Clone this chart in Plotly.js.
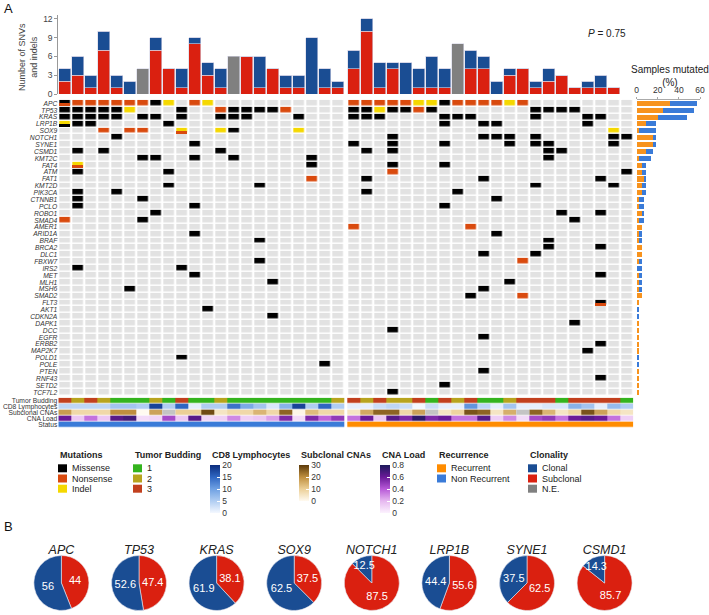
<!DOCTYPE html>
<html><head><meta charset="utf-8">
<script src="https://cdn.plot.ly/plotly-3.0.1.min.js"></script>
<style>html,body{margin:0;padding:0;background:#fff}#chart{width:709px;height:615px}</style>
</head><body><div id="chart"></div>
<script>
// ---------------- DATA ----------------
const genes = ['APC','TP53','KRAS','LRP1B','SOX9','NOTCH1','SYNE1','CSMD1','KMT2C','FAT4','ATM','FAT1','KMT2D','PIK3CA','CTNNB1','PCLO','ROBO1','SMAD4','AMER1','ARID1A','BRAF','BRCA2','DLC1','FBXW7','IRS2','MET','MLH1','MSH6','SMAD2','FLT3','AKT1','CDKN2A','DAPK1','DCC','EGFR','ERBB2','MAP2K7','POLD1','POLE','PTEN','RNF43','SETD2','TCF7L2'];
// codes: . none, M missense, N nonsense, I indel, x = M over N, y = I over M, z = I over N
const mutNonRecurrent = ['xNNNNNNMI.NI','MMMMMI...M..NMMMMN','MMMMM.MM.M..MMM...M','yMM.....M','...N.NN..z..IM....I','....M','..........M','.M.M........M','......MM..M..M.....M','.z.................M','.M......M','...................N','........M......M','.M..M','.M....M','.M........M','.......M','N.....M','','..........M','...............M','','','...............M','.M.......M','..........M','................M','.....M','','','...........M','................M','','','','','','.........M','....................M','','','',''];
const mutRecurrent = ['NNNNNIIMNNNNIN','MMIMMNM.......MMMM','MMM....MMM....M...MM','.......M..MM......M','....................I','...M......MMM.M.....MM','M..M...M....M.MM....M','.M.M...........MM','...............M','...M...M','...N.................M','.M........M........M','..............M.....M','.M......M','...........M','.......M','................M..M','.................M','N........N','...........M','...............M','...............M...M','..........M...M','.............N','','...................M','............M','..........M','.........M...N','...................x','','','.................M','...M','..........M','...................M','..................M','','','..........M','...................M','.......M','...M'];

const clonalNR    = [2,3,2,3,2,2,0,2,0,3,1,2,3,0,0,5,0,2,2,9,3,1];
const subclonalNR = [2,3,1,7,1,0,0,7,4,1,8,3,1,0,6,1,4,1,1,0,1,1];
const notEvalNR   = [0,0,0,0,0,0,4,0,0,0,0,0,0,6,0,0,0,0,0,0,0,0];
const clonalR     = [3,2,4,1,5,3,5,3,0,3,2,2,1,0,1,2,0,0,1,2,0,0];
const subclonalR  = [4,10,1,4,0,1,1,1,0,4,4,0,3,4,1,2,3,1,1,1,1,0];
const notEvalR    = [0,0,0,0,0,0,0,0,8,0,0,0,0,0,0,0,0,0,0,0,0,0];

const trackNames = ['Tumor Budding','CD8 Lymphocytes','Subclonal CNAs','CNA Load','Status'];
const buddingNR = [3,2,3,2,1,1,1,2,1,3,1,1,2,1,1,1,1,1,1,1,1,2];
const buddingR  = [3,2,3,2,2,3,1,3,2,3,1,1,2,3,3,3,1,3,3,3,3,1];
const cd8NR = [4,4,4,4,6,6,5,18,5,15,1,5,5,14,9,6,2,8,18,5,15,5];
const cd8R  = [1,1,3,4,3,0,3,1,1,11,4,1,6,1,1,2,2,8,6,1,7,5];
const subCnaNR = [18,8,8,8,20,20,0,17,null,10,10,28,5,8,8,14,8,25,1,13,8,8];
const subCnaR  = [5,16,25,25,8,17,null,5,9,27,25,5,15,null,25,14,5,9,27,17,8,5];
const cnaLoadNR = [0.6,0.15,0.35,0.15,0.65,0.7,0.08,0.1,0.45,0.15,0.65,0.1,0.12,0.3,0.12,0.15,0.25,0.55,0.08,0.55,0.38,0.5];
const cnaLoadR  = [0.35,0.6,0.15,0.65,0.55,0.75,0.55,0.6,0.35,0.35,0.65,0.12,0.3,0.08,0.45,0.5,0.35,0.6,0.65,0.6,0.35,0.12];

const pieGenes = ['APC','TP53','KRAS','SOX9','NOTCH1','LRP1B','SYNE1','CSMD1'];
const pieClonal = [56,52.6,61.9,62.5,12.5,44.4,37.5,14.3];
const pieSubclonal = [44,47.4,38.1,37.5,87.5,55.6,62.5,85.7];
const pValue = '0.75';

// ---------------- STYLE ----------------
const FONT = 'Liberation Sans, Arial, Helvetica, sans-serif';
const W = 709, H = 615;
const px = v => v / W, py = v => 1 - v / H;
const C = {grey:'#e2e2e2', M:'#000000', N:'#d94a0e', I:'#f5d800',
  clonal:'#1a4d93', sub:'#da2010', ne:'#808080', rec:'#f7931e', nonrec:'#3a7bd8',
  b1:'#34b41e', b2:'#b8a41e', b3:'#c2401e'};
const nL = 22, nR = 22, GAP = 0.23;
const xL = Array.from({length:nL},(_,i)=>i);
const xR = Array.from({length:nR},(_,i)=>nL+GAP+i);
const xAll = xL.concat(xR);
const yIdx = genes.map((g,i)=>i);
const rowPx = 6.88, colPx = 13;
const XG = 2.3, YG = 1.5;

const codeTop = {'.':0,'M':1,'N':2,'I':3,'x':1,'y':3,'z':3};
const codeBot = {'x':C.N,'y':C.M,'z':C.N};
const rowsL = mutNonRecurrent.map(s=>s.padEnd(nL,'.'));
const rowsR = mutRecurrent.map(s=>s.padEnd(nR,'.'));
const mutScale = [[0,C.grey],[0.1667,C.grey],[0.1667,C.M],[0.5,C.M],[0.5,C.N],[0.8333,C.N],[0.8333,C.I],[1,C.I]];

const traces = [];
// top bars
const cat = (a,b)=>a.concat(b);
const barLine = {color:'#d6d6e6',width:0.6};
traces.push({type:'bar', x:xAll, y:cat(subclonalNR,subclonalR), marker:{color:C.sub,line:barLine}, width:0.9, hoverinfo:'skip'});
traces.push({type:'bar', x:xAll, y:cat(clonalNR,clonalR), marker:{color:C.clonal,line:barLine}, width:0.9, hoverinfo:'skip'});
traces.push({type:'bar', x:xAll, y:cat(notEvalNR,notEvalR), marker:{color:C.ne,line:barLine}, width:0.9, hoverinfo:'skip'});

// oncoprint
[[rowsL,xL],[rowsR,xR]].forEach(([rows,xs])=>{
  traces.push({type:'heatmap', x:xs, y:yIdx, z:rows.map(r=>r.split('').map(c=>codeTop[c])),
    colorscale:mutScale, zmin:0, zmax:3, showscale:false, xgap:XG, ygap:YG,
    xaxis:'x', yaxis:'y2', hoverinfo:'skip'});
});
const sx=[], sb=[], sh=[], sc=[];
[[rowsL,xL],[rowsR,xR]].forEach(([rows,xs])=>{
  rows.forEach((r,gi)=>r.split('').forEach((c,ci)=>{
    if (codeBot[c]) { sx.push(xs[ci]); sb.push(gi); sh.push(0.5-YG/rowPx/2); sc.push(codeBot[c]); }
  }));
});
traces.push({type:'bar', x:sx, y:sh, base:sb, width:1-XG/colPx, marker:{color:sc,line:{width:0}}, xaxis:'x', yaxis:'y2', hoverinfo:'skip'});

// samples mutated (%)
const countRow = r => r.split('').filter(c=>c!=='.').length;
const total = nL + nR;
const pctRec = rowsR.map(r=>countRow(r)/total*100);
const pctNon = rowsL.map(r=>countRow(r)/total*100);
traces.push({type:'bar', orientation:'h', y:yIdx, x:pctRec, width:0.74, marker:{color:C.rec}, xaxis:'x3', yaxis:'y2', hoverinfo:'skip'});
traces.push({type:'bar', orientation:'h', y:yIdx, x:pctNon, width:0.74, marker:{color:C.nonrec}, xaxis:'x3', yaxis:'y2', hoverinfo:'skip'});

// annotation tracks
const edgesY = k => [k-0.5, k+0.5];
function track(k, zl, zr, scale, zmin, zmax, cb) {
  [[zl,xL],[zr,xR]].forEach(([z,xs],side)=>{
    const t = {type:'heatmap', x:xs, y:edgesY(k), z:[z], colorscale:scale, zmin:zmin, zmax:zmax,
      showscale:false, ygap:0.7, xaxis:'x', yaxis:'y3', hoverinfo:'skip'};
    if (cb && side===0) { t.showscale = true; t.colorbar = cb; }
    traces.push(t);
  });
}
function cbar(xLeft, yTop, yBot, vals) {
  return {x:px(xLeft), xanchor:'left', y:py((yTop+yBot)/2), yanchor:'middle', len:yBot-yTop, lenmode:'pixels',
    thickness:10, thicknessmode:'pixels', outlinewidth:0, xpad:0, ypad:0, tickvals:vals, ticks:'inside',
    ticklen:3, tickcolor:'#ffffff', tickfont:{size:8.5, color:'#333', family:FONT}};
}
const budScale = [[0,C.b1],[0.3333,C.b1],[0.3333,C.b2],[0.6667,C.b2],[0.6667,C.b3],[1,C.b3]];
const cd8Scale = [[0,'#f4f8ff'],[0.25,'#b0cdf2'],[0.5,'#6fa1e3'],[0.75,'#2f66c2'],[1,'#0b2c7c']];
const subScale = [[0,'#fffaf0'],[0.33,'#ecd098'],[0.66,'#c09040'],[1,'#5c3a0a']];
const cnaScale = [[0,'#fcf2fe'],[0.25,'#e6b8f0'],[0.5,'#b85ad8'],[0.75,'#6a1a98'],[1,'#1c1a5a']];
track(0, buddingNR, buddingR, budScale, 1, 3);
track(1, cd8NR, cd8R, cd8Scale, 0, 20, cbar(210, 465, 513, [0,5,10,15,20]));
track(2, subCnaNR, subCnaR, subScale, 0, 30, cbar(299, 465, 501, [0,10,20,30]));
track(2, subCnaNR.map(v=>v===null?1:null), subCnaR.map(v=>v===null?1:null), [[0,'#c4c4c4'],[1,'#c4c4c4']], 0, 1);
track(3, cnaLoadNR, cnaLoadR, cnaScale, 0, 0.8, cbar(380, 465, 513, [0,0.2,0.4,0.6,0.8]));
track(4, xL.map(()=>0), xR.map(()=>1), [[0,C.nonrec],[0.5,C.nonrec],[0.5,'#ff8c00'],[1,'#ff8c00']], 0, 1);

// pies
pieGenes.forEach((g,i)=>{
  const cx = 61.4 + 77.6*i, r = 27.5;
  traces.push({type:'pie', values:[pieSubclonal[i], pieClonal[i]], text:[String(pieSubclonal[i]), String(pieClonal[i])],
    textinfo:'text', textposition:'inside', insidetextorientation:'horizontal', sort:false, direction:'clockwise', rotation:0,
    marker:{colors:[C.sub, C.clonal], line:{color:'#e8e8f0', width:0.6}},
    textfont:{color:'#fff', size:11, family:FONT},
    domain:{x:[px(cx-r), px(cx+r)], y:[py(613), py(539)]},
    title:{text:g, position:'top center', font:{size:12.5, style:'italic', color:'#222', family:FONT}},
    hoverinfo:'skip', showlegend:false});
});

// ---------------- LEGEND (layout decorations) ----------------
const annotations = [], shapes = [];
const ann = (x,y,text,opt={}) => annotations.push(Object.assign({xref:'paper',yref:'paper',x:px(x),y:py(y),text:text,showarrow:false,xanchor:'left',yanchor:'middle',font:{size:9,color:'#222',family:FONT}},opt));
const legTitleY = 454.5, legRow0 = 468.3, legStep = 10.2;
const catLegends = [
  {title:'Mutations', x:58, items:[['Missense',C.M],['Nonsense',C.N],['Indel',C.I]]},
  {title:'Tumor Budding', x:133, items:[['1',C.b1],['2',C.b2],['3',C.b3]]},
  {title:'Recurrence', x:437, items:[['Recurrent','#ff8c00'],['Non Recurrent',C.nonrec]]},
  {title:'Clonality', x:528, items:[['Clonal',C.clonal],['Subclonal',C.sub],['N.E.',C.ne]]}
];
catLegends.forEach(L=>{
  ann(L.x, legTitleY, '<b>'+L.title+'</b>');
  L.items.forEach(([lab,col],j)=>{
    const y = legRow0 + legStep*j;
    shapes.push({type:'rect',xref:'paper',yref:'paper',x0:px(L.x),x1:px(L.x+9),y0:py(y+4),y1:py(y-4),fillcolor:col,line:{width:0}});
    ann(L.x+11.5, y, lab);
  });
});
ann(210, legTitleY, '<b>CD8 Lymphocytes</b>');
ann(299, legTitleY, '<b>Subclonal CNAs</b>');
ann(380, legTitleY, '<b>CNA Load</b>');
ann(2, 8, 'A', {font:{size:13,color:'#111',family:FONT}});
ann(2, 526, 'B', {font:{size:13,color:'#111',family:FONT}});
ann(607, 33, '<i>P</i> = '+pValue, {xanchor:'center', font:{size:10,color:'#222',family:FONT}});
ann(670, 76, 'Samples mutated<br>(%)', {xanchor:'center', font:{size:10,color:'#222',family:FONT}});
ann(28, 57, 'Number of SNVs<br>and indels', {xanchor:'center', textangle:-90, font:{size:9,color:'#444',family:FONT}});

const layout = {
  width:W, height:H, margin:{l:0,r:0,t:0,b:0}, paper_bgcolor:'#fff', plot_bgcolor:'rgba(0,0,0,0)',
  barmode:'stack', showlegend:false, font:{family:FONT, color:'#333'},
  uniformtext:{mode:'show', minsize:10.5},
  xaxis:{domain:[px(58.3),px(633.3)], range:[-0.5, nL+GAP+nR-0.5], visible:false, fixedrange:true},
  yaxis:{domain:[py(94), py(15.2)], range:[0,12.6], tickvals:[0,3,6,9,12], ticks:'outside', ticklen:3, tickcolor:'#999',
    showline:true, linecolor:'#999', linewidth:1, showgrid:false, zeroline:false, tickfont:{size:8.5,color:'#444'}},
  yaxis2:{domain:[py(395.7), py(99.86)], range:[42.5,-0.5], anchor:'x', tickvals:yIdx, ticktext:genes, ticks:'',
    showgrid:false, zeroline:false, showline:false, tickfont:{size:6.7, style:'italic', color:'#333'}},
  xaxis3:{domain:[px(636.7), px(700)], range:[0,60], anchor:'y2', side:'top', tickvals:[0,20,40,60], ticks:'outside',
    ticklen:2, tickcolor:'#aaa', showline:true, linecolor:'#aaa', showgrid:false, zeroline:false, tickfont:{size:8.5,color:'#333'}},
  yaxis3:{domain:[py(427.65), py(397.65)], range:[4.5,-0.5], anchor:'x', tickvals:[0,1,2,3,4], ticktext:trackNames, ticks:'',
    showgrid:false, zeroline:false, showline:false, tickfont:{size:6.7, color:'#333'}},
  annotations:annotations, shapes:shapes
};
Plotly.newPlot('chart', traces, layout, {staticPlot:true, displayModeBar:false});
</script></body></html>
